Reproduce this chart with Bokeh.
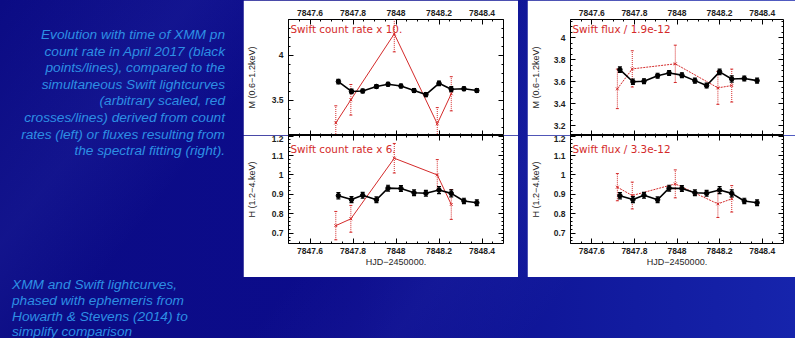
import numpy as np
from bokeh.plotting import figure
from bokeh.layouts import row, column
from bokeh.models import (Range1d, LinearAxis, SingleIntervalTicker, CustomJSTickFormatter,
                          ColumnDataSource, Label, Div, Spacer)
from bokeh.embed import file_html
from bokeh.resources import INLINE

# ---------------- data ----------------
xmm_time = [7847.732, 7847.793, 7847.845, 7847.909, 7847.963, 7848.023,
            7848.084, 7848.139, 7848.200, 7848.257, 7848.316, 7848.376]
xmm_m = [3.710, 3.600, 3.605, 3.655, 3.680, 3.660, 3.610, 3.565, 3.690, 3.625, 3.630, 3.610]
xmm_m_err = [0.025, 0.025, 0.022, 0.022, 0.022, 0.022, 0.022, 0.022, 0.025, 0.028, 0.022, 0.022]
xmm_h = [0.893, 0.873, 0.895, 0.872, 0.932, 0.930, 0.908, 0.906, 0.922, 0.905, 0.866, 0.857]
xmm_h_err = [0.016, 0.016, 0.015, 0.015, 0.015, 0.015, 0.015, 0.015, 0.018, 0.018, 0.014, 0.015]

swift_time = [7847.720, 7847.790, 7847.992, 7848.192, 7848.257]
swift_rate_m = [3.250, 3.507, 4.240, 3.240, 3.574]
swift_rate_m_err = [0.19, 0.17, 0.20, 0.18, 0.19]
swift_rate_h = [0.739, 0.774, 1.086, 1.000, 0.848]
swift_rate_h_err = [0.073, 0.069, 0.076, 0.079, 0.077]
swift_flux_m = [3.535, 3.717, 3.763, 3.544, 3.565]
swift_flux_m_err = [0.18, 0.165, 0.17, 0.15, 0.15]
swift_flux_h = [0.937, 0.894, 0.954, 0.851, 0.877]
swift_flux_h_err = [0.070, 0.069, 0.072, 0.070, 0.068]

panel_notes = ["Swift count rate x 10.", "Swift count rate x 6.",
               "Swift flux / 1.9e-12", "Swift flux / 3.3e-12"]
y_titles = ["M (0.6\u22121.2keV)", "H (1.2\u22124.keV)"]
x_title = "HJD\u22122450000."
caption_1 = ["Evolution with time of XMM pn",
             "count rate in April 2017 (black",
             "points/lines), compared to the",
             "simultaneous Swift lightcurves",
             "(arbitrary scaled, red",
             "crosses/lines) derived from count",
             "rates (left) or fluxes resulting from",
             "the spectral fitting (right)."]
caption_2 = ["XMM and Swift lightcurves,",
             "phased with ephemeris from",
             "Howarth &amp; Stevens (2014) to",
             "simplify comparison"]

# ---------------- style ----------------
FONT = "Liberation Sans"
NOTE_FONT = "DejaVu Sans"
RED = "#d42a2a"
TXT = "#2d8fe4"
PAGE_W, PAGE_H = 795, 338
fmt = CustomJSTickFormatter(code="return String(parseFloat(tick.toFixed(3)));")

PAGE_CSS = """<style>
html, body { height: 100%; }
html { background-color: rgb(12,12,140);
  background-image:
    linear-gradient(128deg, rgba(120,140,255,0) 0%, rgba(120,140,255,0.07) 18%, rgba(120,140,255,0) 30%,
                    rgba(120,140,255,0) 48%, rgba(120,140,255,0.06) 62%, rgba(120,140,255,0) 75%),
    linear-gradient(to right, rgb(11,11,132) 0%, rgb(12,12,140) 45%, rgb(18,28,160) 80%, rgb(22,36,172) 100%);
  background-repeat: no-repeat; background-attachment: fixed; background-size: 100% 100%; }
body { background: transparent !important; }
</style>"""


def style_axis(ax, labels):
    ax.axis_line_color = None          # the frame outline draws the box
    ax.major_tick_in = 5
    ax.major_tick_out = 0
    ax.minor_tick_in = 2
    ax.minor_tick_out = 0
    ax.major_tick_line_color = "black"
    ax.minor_tick_line_color = "black"
    if labels:
        ax.major_label_text_font = FONT
        ax.major_label_text_font_size = "8.5px"
        ax.major_label_text_font_style = "bold"
        ax.major_label_text_color = "#1e1e1e"
        ax.major_label_standoff = 4
    else:
        ax.major_label_text_font_size = "0px"
        ax.major_label_text_alpha = 0
        ax.major_label_standoff = 0
    ax.axis_label_text_font = FONT
    ax.axis_label_text_font_size = "9px"
    ax.axis_label_text_font_style = "normal"
    ax.axis_label_text_color = "#1e1e1e"


def panel(width, height, borders, frame, x_rng, y_rng, y_int, y_minor, y_title, y_title_off,
          top_lab, bottom_lab, x_lab, note, note_dy):
    bl, br, bt, bb = borders
    p = figure(width=width, height=height, x_range=Range1d(*x_rng), y_range=Range1d(*y_rng),
               min_border_left=bl, min_border_right=br, min_border_top=bt, min_border_bottom=bb,
               x_axis_location=None, y_axis_location=None,
               toolbar_location=None, output_backend="svg")
    p.xgrid.visible = False
    p.ygrid.visible = False
    p.background_fill_color = "white"
    p.border_fill_color = "white"
    p.outline_line_color = "black"
    p.outline_line_width = 1
    xt = SingleIntervalTicker(interval=0.2, num_minor_ticks=4)
    yt = SingleIntervalTicker(interval=y_int, num_minor_ticks=y_minor)
    a = LinearAxis(ticker=xt, formatter=fmt)
    style_axis(a, top_lab)
    p.add_layout(a, "above")
    a = LinearAxis(ticker=xt, formatter=fmt, axis_label=x_lab)
    style_axis(a, bottom_lab)
    a.axis_label_standoff = 0
    p.add_layout(a, "below")
    a = LinearAxis(ticker=yt, formatter=fmt, axis_label=y_title)
    style_axis(a, True)
    a.major_label_standoff = 5
    a.axis_label_standoff = y_title_off
    p.add_layout(a, "left")
    a = LinearAxis(ticker=yt, formatter=fmt)
    style_axis(a, False)
    p.add_layout(a, "right")
    fw, fh = frame
    dx = (x_rng[1] - x_rng[0]) / fw
    dy = (y_rng[1] - y_rng[0]) / fh
    p.add_layout(Label(x=x_rng[0] + 2 * dx, y=y_rng[1] - note_dy * dy, text=note,
                       text_font=NOTE_FONT, text_font_size="10.4px", text_color=RED,
                       text_baseline="top", text_align="left"))
    return p


def add_series(p, t, y, e, color, lw, dash, marker, msize, cap, bar_dash, bar_w):
    y = np.array(y)
    e = np.array(e)
    src = ColumnDataSource(dict(t=t, y=y, lo=y - e, hi=y + e))
    p.segment(x0="t", y0="lo", x1="t", y1="hi", source=src, line_color=color,
              line_width=bar_w, line_dash=bar_dash)
    p.scatter("t", "lo", source=src, marker="dash", size=cap, line_color=color, line_width=bar_w)
    p.scatter("t", "hi", source=src, marker="dash", size=cap, line_color=color, line_width=bar_w)
    p.line("t", "y", source=src, line_color=color, line_width=lw, line_dash=dash)
    if marker == "x":
        p.scatter("t", "y", source=src, marker="x", size=msize, line_color=color, line_width=1)
    else:
        p.scatter("t", "y", source=src, marker=marker, size=msize, fill_color=color, line_color=color)


x_rng = (7847.5, 7848.5)
yM_left = (3.11, 4.40)
yM_right = (3.11, 4.167)
yH = (0.647, 1.203)

# left image (count rates): x 233..508, frame 272..493
lt = panel(275, 135, (39, 15, 19, 0), (221, 116), x_rng, yM_left, 0.5, 5, y_titles[0], 12,
           True, False, None, panel_notes[0], 3)
lb = panel(275, 142, (39, 15, 0, 34), (221, 108), x_rng, yH, 0.1, 5, y_titles[1], 12,
           False, True, x_title, panel_notes[1], 7)
# right image (fluxes): x 517..785, frame 553..773
rt = panel(268, 135, (36, 12, 19, 0), (220, 116), x_rng, yM_right, 0.2, 4, y_titles[0], 10,
           True, False, None, panel_notes[2], 3)
rb = panel(268, 142, (36, 12, 0, 34), (220, 108), x_rng, yH, 0.1, 5, y_titles[1], 10,
           False, True, x_title, panel_notes[3], 7)

add_series(lt, swift_time, swift_rate_m, swift_rate_m_err, RED, 1, "solid", "x", 4, 3, "1 1", 1)
add_series(lb, swift_time, swift_rate_h, swift_rate_h_err, RED, 1, "solid", "x", 4, 3, "1 1", 1)
add_series(rt, swift_time, swift_flux_m, swift_flux_m_err, RED, 1, "2 1", "x", 4, 3, "1 1", 1)
add_series(rb, swift_time, swift_flux_h, swift_flux_h_err, RED, 1, "2 1", "x", 4, 3, "1 1", 1)
for pp in (lt, rt):
    add_series(pp, xmm_time, xmm_m, xmm_m_err, "black", 1.6, "solid", "circle", 4.5, 4, "solid", 1.2)
for pp in (lb, rb):
    add_series(pp, xmm_time, xmm_h, xmm_h_err, "black", 1.6, "solid", "circle", 4.5, 4, "solid", 1.2)

# caption column (left side of the slide) as HTML text
W_TXT = 233
line_css = ("position:absolute; white-space:nowrap; font-family:'%s'; font-style:italic; "
            "font-size:13.7px; line-height:16px; color:%s;" % (FONT, TXT))
parts = []
for i, s in enumerate(caption_1):
    top = 30 + 16.6 * i - 8
    parts.append('<div style="%s right:%dpx; top:%.1fpx;">%s</div>' % (line_css, W_TXT - 220, top, s))
for i, s in enumerate(caption_2):
    top = 280 + 15.8 * i - 8
    parts.append('<div style="%s left:7px; top:%.1fpx;">%s</div>' % (line_css, top, s))
caption_html = ('<div style="position:relative; width:%dpx; height:%dpx; overflow:hidden;">%s</div>'
                % (W_TXT, PAGE_H, "".join(parts)))
txt = Div(text=caption_html, width=W_TXT, height=PAGE_H)

gap = Spacer(width=9, height=PAGE_H)

layout = row(txt, column(lt, lb), gap, column(rt, rb))

html = file_html(layout, INLINE, title="XMM and Swift lightcurves")
html = html.replace("</head>", PAGE_CSS + "</head>", 1)
open("out.html", "w").write(html)
